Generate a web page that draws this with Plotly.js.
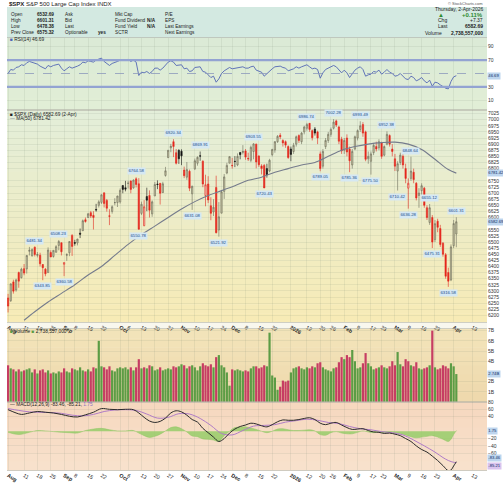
<!DOCTYPE html>
<html><head><meta charset="utf-8">
<script src="https://cdn.plot.ly/plotly-3.0.1.min.js"></script>
<style>html,body{margin:0;padding:0;background:#fff}#chart{width:503px;height:483px}</style>
</head><body><div id="chart"></div>
<script>
// ---------- DATA ----------
const holidays = ['2025-09-01','2025-11-27','2025-12-25','2026-01-01','2026-01-19','2026-02-16','2026-04-03'];
const prevClose0 = 6339.39;
const open = [6271,6260,6337,6304,6375,6354,6391,6390,6462,6443,6479,6445,6446,6408,6389,6375,6457,6441,6458,6486,6497,
6409,6446,6456,6527,6498,6496,6536,6546,6591,6600,6620,6609,6633,6650,6662,6701,6670,6607,6625,6661,6661,
6664,6731,6722,6740,6749,6721,6758,6738,6617,6567,6686,6690,6615,6688,6737,6740,6702,6772,6845,6885,6910,6865,6875,
6871,6794,6765,6789,6697,6799,6822,6852,6830,6690,6737,6648,6623,6723,6549,6618,6707,6782,6822,
6813,6830,6815,6866,6866,6872,6842,6834,6870,6900,6851,6811,6813,6800,6790,6857,6876,6910,6936,6915,6910,6890,
6880,6870,6900,6935,6910,6950,6965,6985,6955,6962,6950,6860,6810,6890,6915,6940,6965,6995,6970,6920,
6875,6925,6880,6815,6880,6925,6960,6980,6950,6840,6830,6865,6890,6885,6905,6855,6900,6935,6880,
6840,6790,6825,6850,6800,6720,6760,6785,6740,6690,6710,6720,6640,6580,6600,6510,6585,6555,6495,6448,6375,6345,
6485,6532.69];
const high = [6288,6330,6346,6350,6379,6395,6410,6446,6480,6474,6481.34,6459,6456,6410,6394,6478,6466,6466,6487,6508.23,6498,
6416,6454,6503,6532,6509,6513,6555,6592,6600,6619,6627,6626,6656,6671,6695,6702,6676,6634,6650,6679,6689,
6719,6731,6750,6750,6752,6756,6764.58,6761,6665,6671,6722,6711,6670,6745,6752,6740,6746,6807,6876,6901,6920.34,6880,6879,
6879,6808,6827,6796,6730,6841,6850,6869.91,6834,6775,6769,6683,6675,6771,6663,6712,6778,6824,6850,
6844,6851,6862,6868,6896,6880,6865,6894,6903.55,6902,6855,6818,6819,6820,6840,6881,6912,6937,6945,6920,6915,6895,
6890,6905,6935,6940,6950,6975,6986.74,6986,6960,6970,6955,6870,6880,6925,6950,6968,7002.28,7000,6975,6930,
6925,6940,6890,6880,6935,6960,6993.49,6990,6955,6870,6870,6905,6910,6920,6910,6895,6952.38,6940,6900,
6860,6830,6865,6860,6820,6760,6848.64,6800,6745,6720,6740,6725,6650,6655.12,6610,6590,6595,6570,6500,6455,6395,6490,
6590,6601.31];
const low = [6212,6255,6289,6297,6313,6351,6364,6371,6445,6441,6441,6437,6400,6343.85,6360,6374,6438,6436,6457,6466,6445,
6360.58,6423,6442,6443,6485,6486,6516,6545,6579,6598,6598,6551,6624,6641,6655,6641,6624,6569,6616,6650,6643,
6657,6699,6707,6719,6699,6718,6723,6550.78,6610,6564,6626,6600,6603,6688,6716,6653,6700,6767,6843,6867,6847,6817,6819,
6814,6761,6754,6708,6631.08,6794,6812,6832,6724,6646,6659,6589,6606,6535,6521.92,6617,6676,6777,6822,
6800,6806,6810,6838,6858,6836,6831,6826,6838,6801,6807,6776,6720.43,6763,6785,6850,6865,6905,6920,6890,6885,6840,
6830,6860,6890,6905,6900,6940,6955,6950,6915,6935,6900,6789.05,6800,6880,6905,6930,6960,6970,6900,6860,
6860,6850,6785.36,6800,6875,6915,6950,6930,6830,6820,6775.50,6855,6870,6875,6840,6850,6895,6890,6850,
6790,6710.42,6815,6800,6740,6636.28,6750,6740,6670,6640,6690,6640,6590,6570,6475.31,6500,6540,6480,6440,6350,6316.58,6340,
6475,6478.38];
const close = [6238,6329,6299,6345,6340,6389,6373,6445,6466,6469,6449,6449,6411,6395,6370,6467,6439,6466,6481,6502,6460,
6416,6448,6502,6482,6495,6512,6532,6587,6584,6615,6606,6600,6631,6664,6693,6657,6638,6605,6644,6661,6688,
6711,6715,6716,6740,6715,6753,6735,6552,6654,6644,6671,6630,6664,6735,6735,6699,6738,6791,6875,6891,6890,6822,6840,
6852,6771,6796,6720,6728,6832,6846,6851,6737,6734,6672,6617,6642,6538,6603,6705,6766,6813,6849,
6812,6829,6850,6857,6870,6847,6840,6887,6901,6827,6816,6800,6721,6775,6834,6878,6910,6932,6930,6905,6896,6845,
6858,6895,6930,6915,6945,6970,6980,6960,6926,6945,6925,6800,6870,6915,6940,6960,6990,6978,6912,6872,
6915,6868,6832,6870,6930,6955,6975,6945,6838,6850,6860,6895,6880,6910,6850,6890,6940,6900,6870,
6810,6820,6855,6815,6760,6740,6790,6755,6680,6700,6730,6650,6600,6640,6500,6575,6560,6490,6450,6360,6340,6480,
6575.32,6582.69];
const volume = [3.6,3.3,3.2,3.0,3.2,3.0,3.1,3.2,3.3,2.9,3.2,2.8,3.1,3.2,2.9,3.1,2.8,2.9,2.8,3.0,2.9,
3.3,3.0,2.9,3.3,3.2,3.1,3.4,3.1,3.0,3.2,3.0,3.4,3.3,6.0,3.5,3.4,3.2,3.5,3.1,3.0,3.3,
3.4,3.3,3.4,3.2,3.4,3.1,3.4,4.2,3.3,3.4,3.3,3.6,3.5,3.1,3.2,3.4,3.1,3.2,3.3,3.2,3.5,3.4,3.5,
3.7,3.6,3.3,3.5,3.6,3.4,3.1,3.5,3.8,3.6,3.5,3.7,3.4,4.4,4.6,3.6,3.4,2.9,1.6,
3.2,3.1,3.2,3.1,3.0,3.1,3.0,3.3,3.5,3.5,3.3,3.4,3.6,3.5,6.8,2.6,2.4,1.2,1.5,2.1,2.0,2.1,
2.9,3.3,3.4,3.5,3.3,3.2,3.4,3.3,3.5,3.4,3.8,3.9,3.4,3.2,3.1,3.0,3.3,3.4,3.9,4.4,
4.2,4.6,4.4,5.1,4.0,3.3,3.4,3.8,4.8,3.8,3.5,3.2,3.3,3.4,3.6,3.4,3.3,3.5,4.0,
3.6,4.9,3.7,3.5,4.2,4.0,3.6,3.5,3.9,3.3,3.2,3.3,3.4,3.6,7.0,3.4,3.2,3.3,3.6,3.5,3.3,3.8,
3.5,2.74];
const rsi = [50,56,55,59,60,63,62,66,68,67,65,64,61,59,57,62,60,62,63,64,58,
54,57,60,58,59,61,63,67,66,69,68,67,70,72,73,68,65,62,65,66,68,
70,70,70,71,68,70,67,47,52,51,53,50,53,58,58,55,58,62,67,69,67,62,63,
63,57,58,53,54,59,60,60,53,52,48,44,46,37,42,50,54,57,59,
57,58,59,59,60,58,58,60,61,55,54,52,46,50,54,57,60,61,61,59,58,54,
55,57,60,58,60,62,63,60,57,58,56,43,51,56,58,60,62,60,55,51,
55,51,44,49,55,58,60,56,46,48,49,53,52,55,49,52,56,52,50,
46,47,50,46,42,41,46,44,39,41,44,39,36,40,31,37,36,33,30,28,27,38,
45,46.69];
const maIdx = [6,10,15,20,25,30,35,40,45,50,55,60,65,70,75,80,85,90,95,100,105,110,115,120,125,130,135,140,145,150,155,160,165,168];
const maVal = [6180,6215,6255,6290,6325,6365,6400,6445,6490,6530,6565,6600,6635,6665,6690,6710,6730,6752,6765,6785,6800,6815,6825,6850,6875,6890,6900,6906,6908,6900,6878,6838,6796,6781.42];
const macdIdx = [0,3,5,8,11,14,17,20,23,26,29,32,35,38,41,44,47,49,51,53,55,57,59,61,63,65,67,69,71,73,75,77,79,81,83,85,87,89,91,93,95,97,99,101,103,105,107,109,111,113,115,117,119,121,123,125,127,129,131,133,135,137,139,141,143,145,147,149,151,153,155,157,159,161,163,165,166,167,168];
const macdVal = [59,50,46,50,54,52,50,46,41,39,45,52,62,60,59,60,59,50,38,28,24,27,36,50,56,53,44,32,25,8,-4,-16,-28,-20,-5,6,13,17,22,20,15,12,18,26,31,30,30,32,35,37,32,22,18,22,24,17,10,5,6,7,2,-2,-3,-6,-5,-8,-12,-20,-28,-40,-50,-57,-68,-80,-94,-108,-106,-95,-83.46];
const sigIdx = [0,4,8,12,16,20,24,28,32,36,40,44,48,52,56,60,64,68,72,76,80,84,88,92,96,100,104,108,112,116,120,124,128,132,136,140,144,148,152,156,160,163,165,167,168];
const sigVal = [62,57,53,52,51,49,44,42,46,54,58,59,57,47,36,38,48,47,35,16,-6,-10,2,14,16,18,25,29,33,30,24,21,13,7,4,-1,-4,-10,-24,-40,-57,-72,-80,-85,-85.21];
const histIdx = [0,4,8,11,14,17,20,23,26,29,32,35,38,41,44,47,49,51,53,55,57,59,61,63,65,67,69,71,73,75,77,79,81,83,85,87,89,91,93,95,97,99,101,103,105,107,109,111,113,115,117,119,121,123,125,127,129,131,133,135,137,139,141,143,145,147,149,151,153,155,157,159,161,163,165,166,167,168];
const histVal = [-3,-9,-3,2,1,-1,-3,-4,-5,2,6,8,4,1,1,2,-5,-12,-17,-14,-8,1,10,12,7,-2,-13,-15,-21,-22,-24,-28,-12,0,10,11,12,9,5,0,-4,0,6,7,4,2,2,3,4,1,-9,-11,-4,-1,-5,-7,-7,-3,1,-2,-4,-2,-4,-2,-4,-6,-10,-15,-18,-16,-14,-12,-16,-22,-28,-22,-9,1.75];
const tickDates = ['2025-08-01','2025-08-11','2025-08-18','2025-08-25','2025-09-02','2025-09-08','2025-09-15','2025-09-22','2025-10-01','2025-10-06','2025-10-13','2025-10-20','2025-10-27','2025-11-03','2025-11-10','2025-11-17','2025-11-24','2025-12-01','2025-12-08','2025-12-15','2025-12-22','2026-01-02','2026-01-12','2026-01-20','2026-01-26','2026-02-02','2026-02-09','2026-02-17','2026-02-23','2026-03-02','2026-03-09','2026-03-16','2026-03-23','2026-04-01','2026-04-13'];
const tickText = ['<b>Aug</b>','11','18','25','<b>Sep</b>','8','15','22','<b>Oct</b>','6','13','20','27','<b>Nov</b>','10','17','24','<b>Dec</b>','8','15','22','<b>2026</b>','12','20','26','<b>Feb</b>','9','17','23','<b>Mar</b>','9','16','23','<b>Apr</b>','13'];
const pivotHigh = ['2025-08-15','2025-08-28','2025-10-09','2025-10-29','2025-11-12','2025-12-11','2026-01-12','2026-01-27','2026-02-10','2026-02-25','2026-03-10','2026-03-19','2026-04-02'];
const pivotLow = ['2025-08-20','2025-09-02','2025-10-10','2025-11-07','2025-11-21','2025-12-17','2026-01-20','2026-02-04','2026-02-17','2026-03-03','2026-03-09','2026-03-20','2026-03-30'];
const rsiLevels = {upper:70, mid:50, lower:30};
const rsiTicks = [10,30,50,70,90];
const priceTicks = {from:6200, to:7025, step:25};
const volTicks = [1,2,3,4,5,6,7];
const volTickText = ['1B','2B','3B','4B','5B','6B','7B'];
const macdTicks = [80,60,40,20,0,-20,-40,-60,-80,-100];

// ---------- helpers ----------
function buildDays(start,end){const out=[];const d=new Date(start+'T12:00:00Z');const e=new Date(end+'T12:00:00Z');
  while(d<=e){const w=d.getUTCDay();const s=d.toISOString().slice(0,10);if(w!==0&&w!==6&&!holidays.includes(s))out.push(s);d.setUTCDate(d.getUTCDate()+1);}return out;}
const days = buildDays('2025-08-01','2026-04-30');
const idxOf = s => days.indexOf(s);
const xs = close.map((_,i)=>i);
const prev = close.map((c,i)=> i===0?prevClose0:close[i-1]);
const H=483, Lm=7, Rm=16, PW=503-Lm-Rm;
const py = p => 1 - p/H;
const XR = [-0.4,179.5];
const tickIdx = tickDates.map(idxOf);
const FONT = 'Liberation Sans, Arial, sans-serif';
const last = a => a[a.length-1];
const P = {rsi:[38,110], price:[110,322], vol:[329,402], macd:[402,470]};
const R = {rsi:[-4.5,103], price:[6173,7039.5], vol:[0,7.16], macd:[-106,80]};
const pxPerUnit = k => (P[k][1]-P[k][0])/(R[k][1]-R[k][0]);
function freeTicks(vals,k,tags,minPx){return vals.filter(v=>tags.every(t=>Math.abs(v-t)*pxPerUnit(k)>(minPx||4)));}

function hex2rgb(h){return [parseInt(h.slice(1,3),16),parseInt(h.slice(3,5),16),parseInt(h.slice(5,7),16)];}
const shapes=[];
function grad(y0,y1,c0,c1,n){const a=hex2rgb(c0),b=hex2rgb(c1);for(let k=0;k<n;k++){const t=n===1?0:k/(n-1);
  const c=a.map((v,j)=>Math.round(v+(b[j]-v)*t));const ya=y0+(y1-y0)*k/n, yb=y0+(y1-y0)*(k+1)/n+0.5;
  shapes.push({type:'rect',xref:'paper',yref:'paper',x0:0,x1:1,y0:py(yb),y1:py(ya),fillcolor:`rgb(${c[0]},${c[1]},${c[2]})`,line:{width:0},layer:'below'});}}
grad(7,38,'#d3e9e1','#d3e9e1',1);
grad(38,110,'#dbead6','#e1eed6',6);
grad(110,322,'#e3eed9','#f7ebb6',24);
grad(322,329,'#f8f7ee','#f8f7ee',1);
grad(329,402,'#f2e3b9','#efd9ad',8);
grad(402,470,'#f6d8bf','#f8e1cc',8);
shapes.push({type:'line',xref:'paper',yref:'y',x0:0,x1:1,y0:rsiLevels.upper,y1:rsiLevels.upper,line:{color:'#93a3d2',width:2.2}});
shapes.push({type:'line',xref:'paper',yref:'y',x0:0,x1:1,y0:rsiLevels.lower,y1:rsiLevels.lower,line:{color:'#93a3d2',width:2.2}});
shapes.push({type:'line',xref:'paper',yref:'y',x0:0,x1:1,y0:rsiLevels.mid,y1:rsiLevels.mid,line:{color:'#8d99bb',width:0.8,dash:'dash'}});

// ---------- traces ----------
const gA = xs.filter(i=>close[i]>=prev[i]), gB = xs.filter(i=>close[i]<prev[i]);
const pick=(arr,g)=>g.map(i=>arr[i]);
const traces=[];
traces.push({type:'scatter',mode:'lines',x:xs,y:rsi,xaxis:'x',yaxis:'y',line:{color:'#5266b4',width:0.9},hoverinfo:'skip'});
traces.push({type:'candlestick',x:gA,open:pick(open,gA),high:pick(high,gA),low:pick(low,gA),close:pick(close,gA),xaxis:'x2',yaxis:'y2',whiskerwidth:0,
  increasing:{line:{color:'#6b6b5a',width:0.6},fillcolor:'#c9c5a2'},decreasing:{line:{color:'#111111',width:0.6},fillcolor:'#111111'},hoverinfo:'skip'});
traces.push({type:'candlestick',x:gB,open:pick(open,gB),high:pick(high,gB),low:pick(low,gB),close:pick(close,gB),xaxis:'x2',yaxis:'y2',whiskerwidth:0,
  increasing:{line:{color:'#e0281e',width:0.6},fillcolor:'#f5c9bf'},decreasing:{line:{color:'#e0281e',width:0.6},fillcolor:'#e8241b'},hoverinfo:'skip'});
traces.push({type:'scatter',mode:'lines',x:maIdx,y:maVal,xaxis:'x2',yaxis:'y2',line:{color:'#757b8c',width:1.1,shape:'spline'},hoverinfo:'skip'});
traces.push({type:'bar',x:xs,y:volume,xaxis:'x3',yaxis:'y3',width:0.82,marker:{color:xs.map(i=>close[i]>=prev[i]?'#5c9c45':'#c63d63'),line:{width:0}},hoverinfo:'skip'});
traces.push({type:'scatter',mode:'lines',x:histIdx,y:histVal,xaxis:'x4',yaxis:'y4',fill:'tozeroy',fillcolor:'rgba(150,205,105,0.85)',line:{color:'#8cc462',width:0.5,shape:'spline'},hoverinfo:'skip'});
traces.push({type:'scatter',mode:'lines',x:sigIdx,y:sigVal,xaxis:'x4',yaxis:'y4',line:{color:'#b07cc6',width:1,shape:'spline'},hoverinfo:'skip'});
traces.push({type:'scatter',mode:'lines',x:macdIdx,y:macdVal,xaxis:'x4',yaxis:'y4',line:{color:'#2b2b2b',width:1,shape:'spline'},hoverinfo:'skip'});

// ---------- axes ----------
const grid='rgba(110,130,110,0.22)';
function xax(anchor,labels){return {domain:[0,1],range:XR,anchor:anchor,tickmode:'array',tickvals:tickIdx,ticktext:tickText,
  showticklabels:labels,ticks:'',showgrid:true,gridcolor:grid,gridwidth:0.5,zeroline:false,showline:true,mirror:true,linecolor:'#b3b3a6',linewidth:0.6,
  tickfont:{family:FONT,size:5.3,color:'#222'},rangeslider:{visible:false},fixedrange:true};}
function yax(anchor,k,extra){return Object.assign({domain:[py(P[k][1]),py(P[k][0])],range:R[k],anchor:anchor,side:'right',showgrid:true,gridcolor:grid,gridwidth:0.5,
  zeroline:false,ticks:'',tickfont:{family:FONT,size:5,color:'#333'},showline:false,fixedrange:true,tickmode:'array'},extra);}
const priceVals=[];for(let v=priceTicks.from;v<=priceTicks.to;v+=priceTicks.step)priceVals.push(v);
const pTick=freeTicks(priceVals,'price',[last(close),last(maVal)]);
const rTick=freeTicks(rsiTicks,'rsi',[last(rsi)]);
const vTickIdx=volTicks.map((v,i)=>i).filter(i=>freeTicks([volTicks[i]],'vol',[last(volume)]).length);
const mTick=freeTicks(macdTicks,'macd',[last(histVal),last(macdVal),last(sigVal)],7.5);
const layout={width:503,height:483,margin:{l:Lm,r:Rm,t:0,b:0},paper_bgcolor:'#ffffff',plot_bgcolor:'rgba(0,0,0,0)',showlegend:false,
  xaxis:xax('y',false), xaxis2:xax('y2',true), xaxis3:xax('y3',false), xaxis4:xax('y4',true),
  yaxis:yax('x','rsi',{tickvals:rTick}),
  yaxis2:yax('x2','price',{tickvals:pTick,ticktext:pTick.map(String)}),
  yaxis3:yax('x3','vol',{tickvals:vTickIdx.map(i=>volTicks[i]),ticktext:vTickIdx.map(i=>volTickText[i])}),
  yaxis4:yax('x4','macd',{tickvals:mTick}),
  shapes:shapes,annotations:[]};
const ann=layout.annotations;
function txt(text,xpx,ypx,o){ann.push(Object.assign({text:text,xref:'paper',yref:'paper',x:(xpx-Lm)/PW,y:py(ypx),xanchor:'left',yanchor:'middle',showarrow:false,
  font:{family:FONT,size:5,color:'#222'}},o||{}));}
// header
txt('<b>$SPX</b> S&P 500 Large Cap Index INDX',7,4,{font:{family:FONT,size:6,color:'#222'}});
txt('© StockCharts.com',485,3,{xanchor:'right',font:{family:FONT,size:4,color:'#555'}});
const rowsY=[14.5,20.5,26.5,32.5];
const hf={family:FONT,size:4.7,color:'#222'};
[['Open','6532.69'],['High','6601.31'],['Low','6478.38'],['Prev Close','6575.32']].forEach((r,k)=>{txt(r[0],9,rowsY[k],{font:hf});txt('<b>'+r[1]+'</b>',35,rowsY[k],{font:hf});});
['Ask','Bid','Last','Optionable'].forEach((r,k)=>txt(r,63,rowsY[k],{font:hf}));
txt('<b>yes</b>',96,rowsY[3],{font:hf});
['Mkt Cap','Fund Dividend','Fund Yield','SCTR'].forEach((r,k)=>txt(r,113,rowsY[k],{font:hf}));
txt('<b>N/A</b>',145,rowsY[1],{font:hf});txt('<b>N/A</b>',145,rowsY[2],{font:hf});
['P/E','EPS','Last Earnings','Next Earnings'].forEach((r,k)=>txt(r,163,rowsY[k],{font:hf}));
txt('Thursday, 2-Apr-2026',485,9,{xanchor:'right'});
txt('▲',436,14.5,{font:{family:FONT,size:6,color:'#2e8b2e'}});
txt('<b>+0.11%</b>',485,14.5,{xanchor:'right',font:{family:FONT,size:6,color:'#2e8b2e'}});
txt('Chg',436,20.5);txt('+7.37',485,20.5,{xanchor:'right'});
txt('Last',436,26.5);txt('<b>6582.69</b>',485,26.5,{xanchor:'right'});
txt('Volume',423,32.5);txt('<b>2,738,557,000</b>',485,32.5,{xanchor:'right'});
// panel legends
const lf={family:FONT,size:4.8,color:'#222'};
txt('<span style="color:#5266b4">■</span> RSI(14) 46.69',8,40,{font:lf});
txt('■ $SPX (Daily) 6582.69 (2-Apr)',8,114,{font:lf});
txt('<span style="color:#757b8c">—</span> MA(50) 6781.42',8,118.5,{font:lf});
txt('<span style="color:#5c9c45">■</span> Volume <span style="color:#5c9c45">■</span> 2,738,557,000',8,331.5,{font:lf});
txt('— MACD(12,26,9) -83.46, -85.21, <span style="color:#8a6fc4">1.75</span>',8,404.5,{font:lf});
// right-axis tags
function tag(text,yref,y,yshift,bg){ann.push({text:text,xref:'paper',yref:yref,x:1,y:y,yshift:yshift||0,xanchor:'left',yanchor:'middle',showarrow:false,
  bgcolor:bg||'#bdd5ee',borderpad:0.3,font:{family:FONT,size:4.2,color:'#0d2a63'}});}
tag(last(rsi).toFixed(2),'y',last(rsi));
tag(last(close).toFixed(2),'y2',last(close));
tag(last(maVal).toFixed(2),'y2',last(maVal));
tag(last(volume).toFixed(2)+'B','y3',last(volume));
tag(last(histVal).toFixed(2),'y4',last(histVal));
tag(last(sigVal).toFixed(2),'y4',last(sigVal),-3.6,'#d9c4ee');
tag(last(macdVal).toFixed(2),'y4',last(macdVal),3.6);
// pivot labels
function piv(d,isHigh){const i=idxOf(d);const v=isHigh?high[i]:low[i];
  ann.push({text:v.toFixed(2),xref:'x2',yref:'y2',x:i,y:v,yshift:isHigh?2:-2,xanchor:'center',yanchor:isHigh?'bottom':'top',showarrow:false,
  bgcolor:'#d5e8f3',borderpad:0.4,font:{family:FONT,size:4.3,color:'#1b4c8a'}});}
pivotHigh.forEach(d=>piv(d,true));
pivotLow.forEach(d=>piv(d,false));

Plotly.newPlot('chart',traces,layout,{staticPlot:true,displayModeBar:false});
</script></body></html>
